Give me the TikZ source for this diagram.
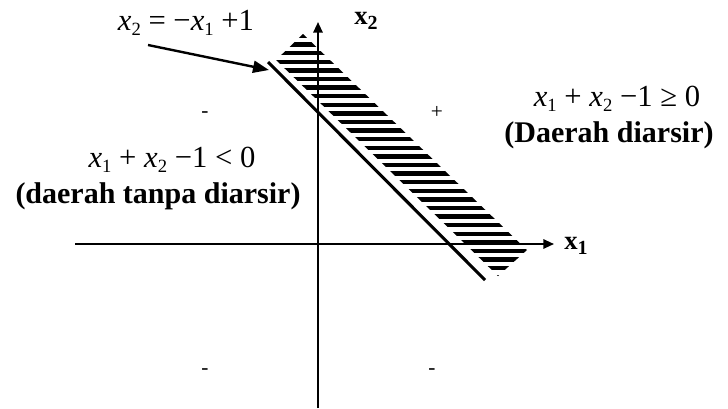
\documentclass[tikz,border=0pt]{standalone}
\usepackage{fontspec}
\setmainfont{Liberation Serif}
\usetikzlibrary{arrows.meta}
\newcommand\sbs[1]{\raisebox{-0.35ex}{\fontsize{14}{14}\selectfont #1}}
\newcommand\vx[1]{\textit{x}\sbs{#1}}
\newcommand\bsb[1]{\raisebox{-0.4ex}{\fontsize{15}{15}\selectfont\bfseries #1}}
\begin{document}
\begin{tikzpicture}[x=0.75pt,y=-0.75pt,
  lbl/.style={inner sep=0pt,font=\fontsize{23}{27}\selectfont},
  blbl/.style={inner sep=0pt,font=\fontsize{22.5}{27}\selectfont\bfseries},
  axl/.style={inner sep=0pt,font=\fontsize{20}{24}\selectfont\bfseries},
  axis/.style={line width=1.5pt,-{Triangle[length=8pt,width=7pt]}},
  sgn/.style={inner sep=0pt,font=\fontsize{16}{16}\selectfont}]
\useasboundingbox (0,0) rectangle (728,408);
% hatched band
\begin{scope}
\clip (303,34) -- (527,250) -- (498,276) -- (276,60) -- cycle;
\foreach \y in {36,44.6,...,282} \draw[line width=3.4pt] (270,\y) -- (530,\y);
\end{scope}
% axes
\coordinate (yb) at (318,408);
\coordinate (yt) at (318,22);
\coordinate (xl) at (75,244);
\coordinate (xr) at (554,244);
\draw[axis] (yb) -- (yt);
\draw[axis] (xl) -- (xr);
% boundary line
\coordinate (la) at (268,62);
\coordinate (lb) at (485,280);
\draw[line width=2.3pt] (la) -- (lb);
% labels
\node[lbl] (eq) at (186,23) {\vx{2} = −\vx{1} +1};
\coordinate (as) at (148,45);
\coordinate (ae) at (269,70);
\draw[line width=1.8pt,-{Triangle[length=12pt,width=9pt]}] (as) -- (ae);
\node[axl] (x2) at (366,21) {x\bsb{2}};
\node[axl] (x1) at (576,246) {x\bsb{1}};
\node[lbl] (ge) at (617,99) {\vx{1} + \vx{2} −1 ≥ 0};
\node[blbl] (dd) at (609,135) {(Daerah diarsir)};
\node[lbl] (lt) at (172,160) {\vx{1} + \vx{2} −1 < 0};
\node[blbl] (dt) at (158,196) {(daerah tanpa diarsir)};
\node[sgn] (m1) at (205,115) {-};
\node[sgn] (p1) at (437,112) {+};
\node[sgn] (m2) at (205,372) {-};
\node[sgn] (m3) at (432,372) {-};
\end{tikzpicture}
\end{document}
